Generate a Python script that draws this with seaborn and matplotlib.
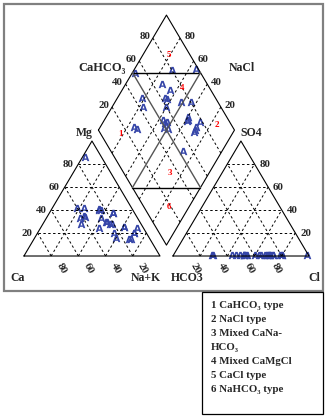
import numpy as np
import pandas as pd
import matplotlib.pyplot as plt
import matplotlib.patches as patches
import seaborn as sns

# cations, meq %
ca  = [12, 38, 25, 38, 24, 40, 35, 25, 23, 27, 23, 24, 33, 16, 24, 14, 5, 9, 42, 44, 24, 16, 21, 14, 15, 9, 14]
mg  = [86, 34, 30, 35, 41, 42, 42, 40, 40, 33, 28, 20, 24, 37, 16, 25, 24, 20, 33, 28, 30, 37, 28, 25, 15, 20, 15]
nak = [2, 28, 45, 27, 35, 18, 23, 35, 37, 40, 49, 56, 43, 47, 60, 61, 71, 71, 25, 28, 46, 47, 51, 61, 70, 71, 71]
# anions, meq %
hco3 = [47, 19, 1, 32, 29, 53, 56, 36, 35, 39, 26, 19, 47, 45, 28, 29, 21, 28, 71, 70, 47, 50, 47, 30, 26, 30, 46]
so4  = [1, 1, 1, 1, 1, 1, 1, 1, 1, 1, 1, 1, 1, 1, 1, 1, 1, 1, 1, 1, 1, 1, 1, 1, 1, 1, 1]
cl   = [52, 80, 98, 67, 70, 46, 43, 63, 64, 60, 73, 80, 52, 54, 71, 70, 78, 71, 28, 29, 52, 49, 52, 69, 73, 69, 53]

# water type numbers inside the diamond (na+k %, cl %)
type_no  = ['1', '2', '3', '4', '5', '6']
type_nak = [18, 85, 71, 43, 19, 85]
type_cl  = [15, 89, 34, 80, 84, 18]

legend_lines = ['1 CaHCO\u2083 type', '2 NaCl type', '3 Mixed CaNa-', 'HCO\u2083',
                '4 Mixed CaMgCl', '5 CaCl type', '6 NaHCO\u2083 type']
ticks = [20, 40, 60, 80]

g = 9.5
h = np.sqrt(3) / 2


def cation_xy(m, n):
    m, n = np.asarray(m, float), np.asarray(n, float)
    return n + m / 2, m * h


def anion_xy(s, c):
    s, c = np.asarray(s, float), np.asarray(c, float)
    return 100 + g + c + s / 2, s * h


def diamond_xy(n, c):
    n, c = np.asarray(n, float), np.asarray(c, float)
    return 50 + g / 2 + (c + n) / 2, (100 + g) * h + (c - n) * h


sns.set_style("white")
plt.rcParams['font.family'] = ['Liberation Serif', 'DejaVu Serif']
plt.rcParams['font.weight'] = 'bold'

fig = plt.figure(figsize=(3.31, 4.2), dpi=100)
ax = fig.add_axes([0, 0, 1, 1])

line = dict(color='black', lw=0.8)
dash = dict(color='black', lw=0.7, ls=(0, (2.5, 2.5)))


def seg(p, q, **kw):
    ax.plot([p[0], q[0]], [p[1], q[1]], **kw)


# outlines
ax.plot(*cation_xy([0, 0, 100, 0], [0, 100, 0, 0]), **line)
ax.plot(*anion_xy([0, 0, 100, 0], [0, 100, 0, 0]), **line)
ax.plot(*diamond_xy([0, 0, 100, 100, 0], [0, 100, 100, 0, 0]), **line)

# dashed grids
for k in ticks:
    seg(cation_xy(k, 0), cation_xy(k, 100 - k), **dash)
    seg(cation_xy(0, k), cation_xy(100 - k, k), **dash)
    seg(cation_xy(0, 100 - k), cation_xy(100 - k, 0), **dash)
    seg(anion_xy(k, 0), anion_xy(k, 100 - k), **dash)
    seg(anion_xy(0, k), anion_xy(100 - k, k), **dash)
    seg(anion_xy(0, 100 - k), anion_xy(100 - k, 0), **dash)
    seg(diamond_xy(k, 0), diamond_xy(k, 100), **dash)
    seg(diamond_xy(0, k), diamond_xy(100, k), **dash)

# division lines in the diamond
seg(diamond_xy(0, 50), diamond_xy(50, 100), color='black', lw=1.0)
seg(diamond_xy(50, 0), diamond_xy(100, 50), color='black', lw=1.0)
seg(diamond_xy(0, 50), diamond_xy(100, 50), color='#555555', lw=1.0)
seg(diamond_xy(50, 0), diamond_xy(50, 100), color='#555555', lw=1.0)

# samples
cx, cy = cation_xy(mg, nak)
axx, axy = anion_xy(so4, cl)
dx, dy = diamond_xy(nak, cl)
pts = pd.DataFrame({'x': np.concatenate([cx, axx, dx]),
                    'y': np.concatenate([cy, axy, dy])})
sns.scatterplot(data=pts, x='x', y='y', marker='$\\mathsf{A}$', s=30, color='#3545a8',
                linewidth=0, ax=ax, legend=False)

# type numbers
tx, ty = diamond_xy(type_nak, type_cl)
for t, x, y in zip(type_no, tx, ty):
    ax.text(x, y, t, color='red', fontsize=6.5, ha='center', va='center')

# tick labels
fs = 7.8
for k in ticks:
    x, y = cation_xy(k, 0)
    ax.text(x - 3.5, y, str(k), fontsize=fs, ha='right', va='center')
    x, y = anion_xy(k, 100 - k)
    ax.text(x + 3.5, y, str(k), fontsize=fs, ha='left', va='center')
    x, y = cation_xy(0, 100 - k)
    ax.text(x + 7.4, y - 9, str(k), fontsize=fs, ha='center', va='center', rotation=-60)
    x, y = anion_xy(0, k)
    ax.text(x - 3.7, y - 9, str(k), fontsize=fs, ha='center', va='center', rotation=-60)
    x, y = diamond_xy(0, k)
    ax.text(x - 2, y + 1.5, str(k), fontsize=fs, ha='right', va='center')
    x, y = diamond_xy(100 - k, 100)
    ax.text(x + 3, y + 1.5, str(k), fontsize=fs, ha='left', va='center')

# axis names
fn = 8.5
ax.text(75, 141.6, 'CaHCO\u2083', fontsize=9, ha='right', va='center')
ax.text(150.7, 141.6, 'NaCl', fontsize=fn, ha='left', va='center')
ax.text(44.5, 92.6, 'Mg', fontsize=fn, ha='center', va='center')
ax.text(166.9, 92.6, 'SO4', fontsize=fn, ha='center', va='center')
ax.text(-4.8, -16.6, 'Ca', fontsize=fn, ha='center', va='center')
ax.text(89.7, -16.6, 'Na+K', fontsize=fn, ha='center', va='center')
ax.text(119.9, -16.6, 'HCO3', fontsize=fn, ha='center', va='center')
ax.text(213.2, -16.6, 'Cl', fontsize=fn, ha='center', va='center')

ax.set_xlim(-17.6, 225.7)
ax.set_ylim(-123.5, 192.8)
ax.axis('off')

# frame and legend box
W, H = 331, 420
fig.patches.append(patches.Rectangle((4 / W, 1 - 291 / H), 319 / W, 287 / H, transform=fig.transFigure,
                                     fill=False, ec='#808080', lw=1.6))
fig.patches.append(patches.Rectangle((202 / W, 1 - 414 / H), 121 / W, 122 / H, transform=fig.transFigure,
                                     fill=False, ec='black', lw=0.9))
for i, txt in enumerate(legend_lines):
    ypx = [305, 319, 334, 347, 361, 375, 389][i]
    fig.text(211 / W, 1 - ypx / H, txt, fontsize=7.8, ha='left', va='center')

fig.savefig('out.png', dpi=100)
